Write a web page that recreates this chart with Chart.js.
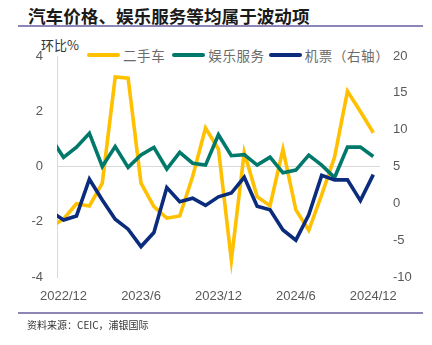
<!DOCTYPE html>
<html>
<head>
<meta charset="utf-8">
<script src="https://cdn.jsdelivr.net/npm/chart.js@4/dist/chart.umd.min.js"></script>
<style>
  html, body { margin: 0; padding: 0; background: #ffffff; }
  #wrap { position: relative; width: 432px; height: 345px; overflow: hidden; font-family: "Noto Sans CJK SC", "Liberation Sans", sans-serif; }
  #title { position: absolute; left: 28px; top: 4px; font-size: 17.6px; font-weight: 700; color: #1a1a1a; line-height: 24px; white-space: nowrap; }
  .rule { position: absolute; left: 18px; width: 405px; height: 2px; background: #8c86b6; }
  #unit { position: absolute; left: 41px; top: 36px; font-size: 13px; color: #333333; line-height: 18px; white-space: nowrap; }
  #legend { position: absolute; left: 87px; top: 46px; display: flex; align-items: center; height: 18px; white-space: nowrap; }
  .li { display: flex; align-items: center; }
  .sw { width: 33px; height: 4px; border-radius: 2px; }
  .lt { margin-left: 3px; font-size: 13.5px; color: #6b6b6b; line-height: 18px; letter-spacing: 0.6px; }
  #source { position: absolute; left: 27px; top: 318px; font-size: 10px; color: #333333; line-height: 14px; white-space: nowrap; }
  canvas { position: absolute; left: 0; top: 0; }
</style>
</head>
<body>
<div id="wrap">
  <div id="title">汽车价格、娱乐服务等均属于波动项</div>
  <div class="rule" style="top:25px"></div>
  <div id="unit">环比%</div>
  <div id="legend"></div>
  <canvas id="c" width="432" height="345"></canvas>
  <div class="rule" style="top:312px"></div>
  <div id="source">资料来源：CEIC，浦银国际</div>
</div>
<script>
// Months: index 0 = 2022/11 (partly clipped at the left axis) ... index 25 = 2024/12
const months = ["2022/11","2022/12","2023/1","2023/2","2023/3","2023/4","2023/5","2023/6","2023/7","2023/8","2023/9","2023/10","2023/11","2023/12","2024/1","2024/2","2024/3","2024/4","2024/5","2024/6","2024/7","2024/8","2024/9","2024/10","2024/11","2024/12"];
const tickLabels = ["2022/12","2023/6","2023/12","2024/6","2024/12"];
const seriesNames = ["二手车","娱乐服务","机票（右轴）"];
const usedCar = [-2.2, -1.9, -1.35, -1.43, -0.6, 3.24, 3.2, -0.6, -1.45, -1.87, -1.79, -0.36, 1.39, 0.63, -3.38, 0.51, -1.09, -1.42, 0.62, -1.57, -2.31, -1.03, 0.34, 2.72, 1.99, 1.22];
const entertainment = [1.04, 0.33, 0.70, 1.20, 0.0, 0.72, -0.03, 0.42, 0.69, -0.09, 0.51, 0.12, 0.05, 1.15, 0.39, 0.43, 0.05, 0.34, -0.23, -0.13, 0.41, 0.05, -0.40, 0.70, 0.70, 0.36];
const airfare = [-1.1, -2.25, -1.71, 3.27, 0.46, -2.16, -3.51, -5.87, -3.97, 2.15, 0.23, 0.69, -0.28, 0.88, 1.4, 3.54, -0.4, -0.88, -3.61, -5.0, -1.57, 3.8, 3.18, 3.18, 0.37, 3.9];
const leftTicks = [-4, -2, 0, 2, 4];
const rightTicks = [-10, -5, 0, 5, 10, 15, 20];

const colors = ["#FFC000", "#00796B", "#0B2C7C"];

// legend (HTML text)
const lg = document.getElementById('legend');
seriesNames.forEach((n, i) => {
  const it = document.createElement('div');
  it.className = 'li';
  it.style.marginRight = i === 0 ? '7px' : '4px';
  it.innerHTML = '<span class="sw" style="background:' + colors[i] + '"></span><span class="lt">' + n + '</span>';
  lg.appendChild(it);
});

const toPts = arr => arr.map((v, i) => ({ x: i, y: v }));
const tickIdx = tickLabels.map(l => months.indexOf(l));
const tickFont = { family: "'Liberation Sans', Arial, sans-serif", size: 13 };

new Chart(document.getElementById('c'), {
  type: 'line',
  data: {
    datasets: [
      { label: seriesNames[0], data: toPts(usedCar), borderColor: colors[0], yAxisID: 'y', order: 3 },
      { label: seriesNames[1], data: toPts(entertainment), borderColor: colors[1], yAxisID: 'y', order: 2 },
      { label: seriesNames[2], data: toPts(airfare), borderColor: colors[2], yAxisID: 'y2', order: 1 }
    ]
  },
  options: {
    responsive: false,
    animation: false,
    devicePixelRatio: 1,
    layout: { padding: { left: 0, right: 0, top: 56, bottom: 38 } },
    elements: {
      line: { tension: 0, borderWidth: 3.6, borderCapStyle: 'butt', borderJoinStyle: 'miter', fill: false },
      point: { radius: 0, hoverRadius: 0 }
    },
    datasets: { line: { clip: 0 } },
    plugins: { legend: { display: false }, tooltip: { enabled: false }, title: { display: false } },
    scales: {
      x: {
        type: 'linear',
        min: 0.49,
        max: 25.52,
        afterFit: s => { s.height = 30; },
        afterBuildTicks: s => { s.ticks = tickIdx.map(v => ({ value: v })); },
        ticks: {
          autoSkip: false, maxRotation: 0, color: '#595959', font: tickFont, padding: 12,
          callback: v => months[v] && tickLabels.includes(months[v]) ? months[v] : ''
        },
        grid: { display: false, drawTicks: false },
        border: { display: false }
      },
      y: {
        position: 'left',
        min: -4, max: 4,
        afterFit: s => { s.width = 57; },
        afterBuildTicks: s => { s.ticks = leftTicks.map(v => ({ value: v })); },
        ticks: { color: '#595959', font: tickFont, padding: 14 },
        grid: {
          drawTicks: false,
          color: c => (c.tick && c.tick.value === 0) ? '#d9d9d9' : 'rgba(0,0,0,0)',
          lineWidth: 1
        },
        border: { display: true, color: '#d9d9d9', width: 1 }
      },
      y2: {
        position: 'right',
        min: -10, max: 20,
        afterFit: s => { s.width = 52; },
        afterBuildTicks: s => { s.ticks = rightTicks.map(v => ({ value: v })); },
        ticks: { color: '#595959', font: tickFont, padding: 13 },
        grid: { display: false, drawTicks: false },
        border: { display: false }
      }
    }
  }
});
</script>
</body>
</html>
